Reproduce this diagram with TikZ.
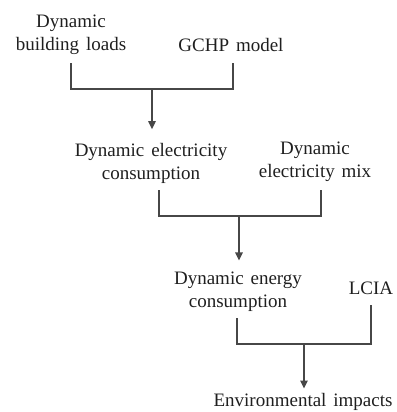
\documentclass[tikz,border=0pt]{standalone}
\usepackage{fontspec}
\setmainfont{Liberation Serif}
\usetikzlibrary{arrows.meta}
\newcommand{\lblfont}{\fontsize{14.25}{17.25}\selectfont\spaceskip=0.36em\relax}
\begin{document}
\begin{tikzpicture}[x=0.75pt,y=-0.75pt,
  lbl/.style={align=center,inner sep=0pt,anchor=base,text=black!88,
    font=\lblfont},
  link/.style={draw=black!72,line width=1.1pt},
  arr/.style={link,-{Triangle[length=6pt,width=5.5pt]}}]
\useasboundingbox (0,0) rectangle (397,412);
% labels (anchor base = baseline of last line)
\node[lbl] (a1) at (71,50) {Dynamic\\building loads};
\node[lbl] (a2) at (231,51) {GCHP model};
\node[lbl] (b1) at (151,179) {Dynamic electricity\\consumption};
\node[lbl] (b2) at (315,177) {Dynamic\\electricity mix};
\node[lbl] (c1) at (238,307) {Dynamic energy\\consumption};
\node[lbl] (c2) at (371,294) {LCIA};
\node[lbl] (d) at (303,406) {Environmental impacts};
% junction points
\coordinate (a1s) at (71,63);
\coordinate (a2s) at (233,63);
\coordinate (m1) at (152,89);
\coordinate (b1s) at (159,190);
\coordinate (b2s) at (321,190);
\coordinate (m2) at (239,216);
\coordinate (c1s) at (237,318);
\coordinate (c2s) at (371,305);
\coordinate (m3) at (304,344);
% connectors
\draw[link] (a1s) |- (m1) -| (a2s);
\draw[arr,shorten >=10pt] (m1) -- (m1 |- b1.north);
\draw[link] (b1s) |- (m2) -| (b2s);
\draw[arr,shorten >=8pt] (m2) -- (m2 |- c1.north);
\draw[link] (c1s) |- (m3) -| (c2s);
\draw[arr,shorten >=3pt] (m3) -- (m3 |- d.north);
\end{tikzpicture}
\end{document}
